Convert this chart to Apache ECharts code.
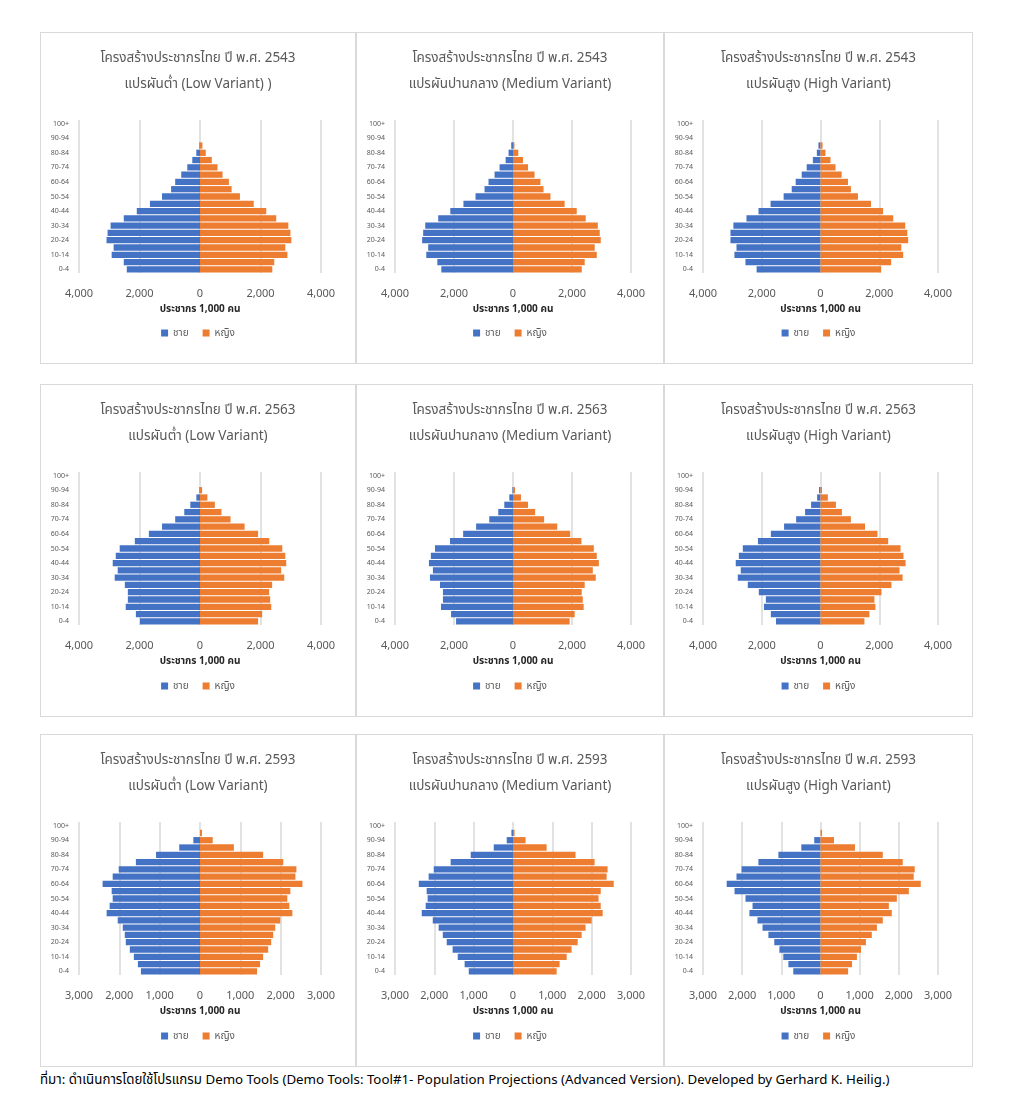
<!DOCTYPE html>
<html>
<head>
<meta charset="utf-8">
<script src="https://cdn.jsdelivr.net/npm/echarts@6/dist/echarts.min.js"></script>
<style>
  html, body { margin: 0; padding: 0; background: #fff; }
  body { width: 1014px; height: 1118px; position: relative; overflow: hidden; }
  .panel { position: absolute; border: 1px solid #d9d9d9; box-sizing: border-box; }
  #source { position: absolute; left: 40px; top: 1070px; font-size: 13.3px; color: #000;
            font-family: 'Noto Sans', 'Noto Sans Thai', Tahoma, sans-serif; white-space: nowrap; }
</style>
</head>
<body>
<div id="p0" class="panel"></div><div id="p1" class="panel"></div><div id="p2" class="panel"></div>
<div id="p3" class="panel"></div><div id="p4" class="panel"></div><div id="p5" class="panel"></div>
<div id="p6" class="panel"></div><div id="p7" class="panel"></div><div id="p8" class="panel"></div>
<div id="source">ที่มา: ดำเนินการโดยใช้โปรแกรม Demo Tools (Demo Tools: Tool#1- Population Projections (Advanced Version). Developed by Gerhard K. Heilig.)</div>
<script>
// Age groups, bottom to top
const ageGroups = ['0-4','5-9','10-14','15-19','20-24','25-29','30-34','35-39','40-44','45-49',
  '50-54','55-59','60-64','65-69','70-74','75-79','80-84','85-89','90-94','95-99','100+'];

const seriesNames = ['ชาย', 'หญิง'];
const axisTitle = 'ประชากร 1,000 คน';

const titleYear = ['โครงสร้างประชากรไทย ปี พ.ศ. 2543', 'โครงสร้างประชากรไทย ปี พ.ศ. 2563', 'โครงสร้างประชากรไทย ปี พ.ศ. 2593'];
const titleVariantRow1 = ['แปรผันต่ำ (Low Variant) )', 'แปรผันปานกลาง (Medium Variant)', 'แปรผันสูง (High Variant)'];
const titleVariant = ['แปรผันต่ำ (Low Variant)', 'แปรผันปานกลาง (Medium Variant)', 'แปรผันสูง (High Variant)'];

// x-axis ticks per row (thousands)
const xTicksRow1 = [-4000, -2000, 0, 2000, 4000];
const xTicksRow2 = [-4000, -2000, 0, 2000, 4000];
const xTicksRow3 = [-3000, -2000, -1000, 0, 1000, 2000, 3000];

// 2543
const male2543Low  = [2420,2520,2920,2855,3090,3055,2955,2520,2090,1655,1255,955,820,620,420,255,122,20,0,0,0];
const female2543Low= [2390,2455,2890,2820,3020,2990,2920,2520,2190,1775,1320,1045,955,745,580,390,190,80,0,0,0];
const male2543Med  = [2430,2565,2940,2875,3080,3045,2975,2535,2125,1680,1270,965,830,625,455,250,150,60,0,0,0];
const female2543Med= [2330,2430,2840,2770,2975,2940,2875,2465,2160,1750,1270,1035,930,730,510,340,180,50,0,0,0];
const male2543High = [2175,2555,2930,2860,3065,3065,2965,2520,2110,1700,1255,980,845,640,470,260,125,70,0,0,0];
const female2543High=[2065,2405,2815,2750,2985,2955,2885,2475,2130,1720,1275,1035,935,720,510,340,170,70,0,0,0];
// 2563
const male2563Low  = [1985,2120,2455,2385,2385,2485,2820,2720,2885,2785,2655,2155,1690,1255,820,520,320,120,20,0,0];
const female2563Low= [1920,2055,2355,2320,2285,2385,2785,2685,2850,2820,2720,2290,1920,1475,1010,710,490,245,70,0,0];
const male2563Med  = [1930,2100,2440,2375,2375,2475,2815,2715,2850,2785,2645,2135,1690,1250,805,500,295,125,20,0,0];
const female2563Med= [1920,2090,2395,2365,2330,2430,2805,2705,2910,2840,2740,2320,1940,1500,1055,750,510,270,70,0,0];
const male2563High = [1515,1690,1925,1860,2100,2475,2815,2715,2885,2780,2645,2130,1690,1240,830,525,320,115,50,0,0];
const female2563High=[1495,1665,1870,1835,2075,2415,2795,2690,2895,2825,2725,2305,1940,1515,1035,730,525,250,50,0,0];
// 2593
const male2593Low  = [1465,1540,1640,1740,1840,1865,1915,2040,2315,2240,2165,2190,2415,2165,2015,1590,1090,515,165,0,0];
const female2593Low= [1415,1490,1565,1690,1765,1815,1865,1990,2290,2215,2165,2240,2540,2365,2390,2065,1565,840,315,50,0];
const male2593Med  = [1125,1230,1405,1535,1685,1785,1890,2040,2320,2220,2170,2195,2395,2145,2015,1585,1075,490,160,40,0];
const female2593Med= [1110,1185,1365,1490,1645,1745,1845,2000,2280,2230,2175,2230,2560,2380,2405,2075,1590,855,320,40,0];
const male2593High = [695,820,950,1050,1180,1330,1480,1610,1815,1735,1915,2195,2395,2145,2015,1585,1075,490,160,0,0];
const female2593High=[705,805,930,1035,1160,1310,1440,1590,1820,1745,1950,2255,2560,2380,2405,2100,1590,880,345,40,0];

const panelMale = [male2543Low, male2543Med, male2543High, male2563Low, male2563Med, male2563High, male2593Low, male2593Med, male2593High];
const panelFemale = [female2543Low, female2543Med, female2543High, female2563Low, female2563Med, female2563High, female2593Low, female2593Med, female2593High];

const colLeft = [40, 356, 664], colWidth = [316, 308, 309];
const rowTop = [32, 384, 734], rowHeight = [332, 333, 333];
const rowTicks = [xTicksRow1, xTicksRow2, xTicksRow3];

const FONT = "'Noto Sans', 'Noto Sans Thai', Tahoma, sans-serif";
const fmt = v => Math.abs(v).toLocaleString('en-US');

for (let i = 0; i < 9; i++) {
  const r = Math.floor(i / 3), c = i % 3;
  const el = document.getElementById('p' + i);
  el.style.left = colLeft[c] + 'px';
  el.style.top = rowTop[r] + 'px';
  el.style.width = colWidth[c] + 'px';
  el.style.height = rowHeight[r] + 'px';
  const ticks = rowTicks[r];
  const chart = echarts.init(el, null, { renderer: 'canvas' });
  const line2 = r === 0 ? titleVariantRow1[c] : titleVariant[c];
  const gridLeft = 38, gridRight = (c === 1 ? 32 : 34);
  chart.setOption({
    animation: false,
    textStyle: { fontFamily: FONT },
    title: {
      text: titleYear[r] + '\n' + line2,
      left: 'center', top: 7,
      textStyle: { fontSize: 13.5, fontWeight: 'normal', color: '#595959', lineHeight: 26, fontFamily: FONT }
    },
    legend: {
      data: seriesNames, bottom: 20, left: 'center',
      itemWidth: 7, itemHeight: 7, itemGap: 14, icon: 'rect',
      textStyle: { fontSize: 10, color: '#595959', fontFamily: FONT }
    },
    grid: { left: gridLeft, right: gridRight, top: 87, height: 153, containLabel: false },
    xAxis: {
      type: 'value', min: ticks[0], max: ticks[ticks.length - 1], interval: ticks[1] - ticks[0],
      axisLine: { show: false }, axisTick: { show: false },
      splitLine: { show: true, lineStyle: { color: '#d9d9d9', width: 1.5 } },
      axisLabel: { formatter: fmt, fontSize: 11, color: '#595959', margin: 15, fontFamily: FONT },
      name: axisTitle, nameLocation: 'middle', nameGap: 31,
      nameTextStyle: { fontSize: 10, fontWeight: 'bold', color: '#262626', fontFamily: FONT }
    },
    yAxis: {
      type: 'category', data: ageGroups,
      axisLine: { show: false }, axisTick: { show: false },
      axisLabel: { interval: 1, fontSize: 7, color: '#595959', margin: 10, fontFamily: FONT }
    },
    series: [
      { name: seriesNames[0], type: 'bar', data: panelMale[i].map(v => -v),
        itemStyle: { color: '#4472C4' }, barGap: '-100%', barCategoryGap: '14%' },
      { name: seriesNames[1], type: 'bar', data: panelFemale[i],
        itemStyle: { color: '#ED7D31' }, barGap: '-100%', barCategoryGap: '14%' }
    ]
  });
}
</script>
</body>
</html>
